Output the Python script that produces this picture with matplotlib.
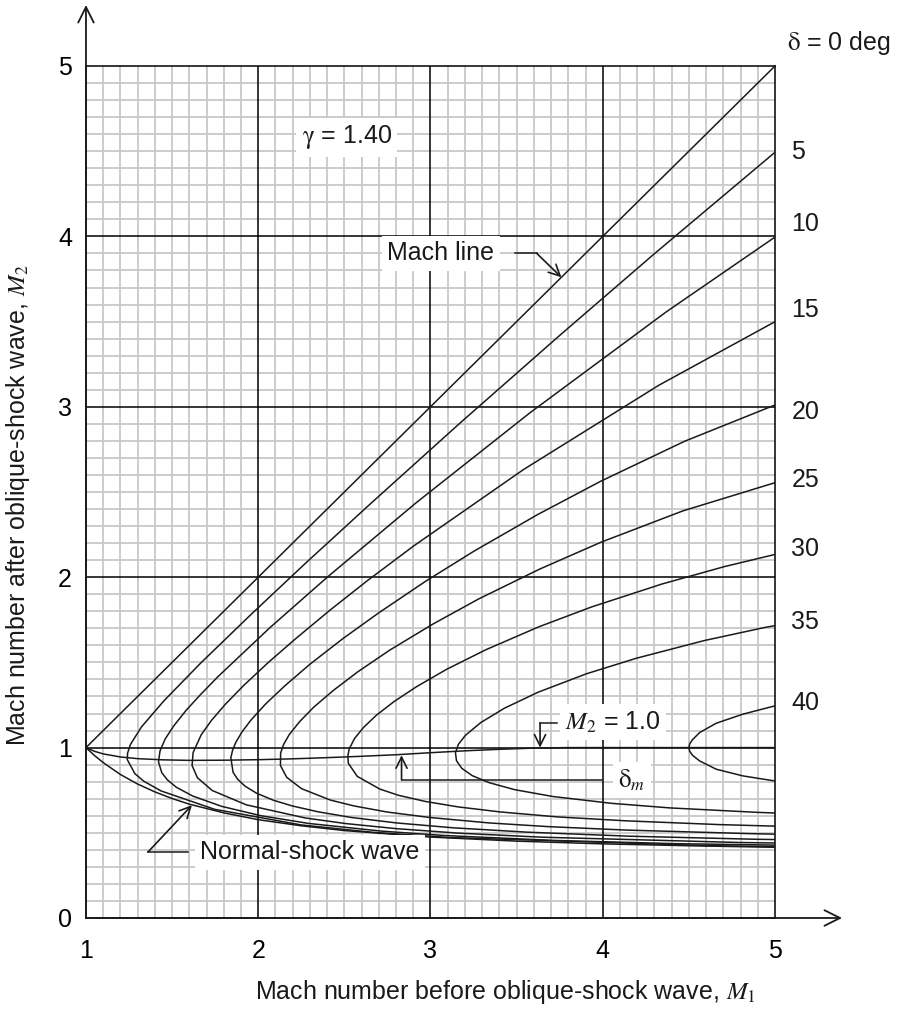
import numpy as np
import matplotlib.pyplot as plt

plt.rcParams['font.family'] = ['Liberation Sans', 'DejaVu Sans']
plt.rcParams['mathtext.fontset'] = 'stix'

# Values (gamma = 1.40)
# delta = 0 : Mach line (weak) and normal shock (strong)
MACH_LINE_M1 = [1.0, 5.0]
MACH_LINE_M2 = [1.0, 5.0]
NORMAL_M1 = [1.0, 1.05, 1.1, 1.2, 1.3, 1.4, 1.5, 1.6, 1.8, 2.0, 2.25, 2.5, 3.0, 3.5, 4.0, 4.5, 5.0]
NORMAL_M2 = [1.0, 0.953, 0.912, 0.842, 0.786, 0.740, 0.701, 0.668, 0.617, 0.577, 0.541, 0.513,
             0.475, 0.451, 0.435, 0.424, 0.415]

# each list runs from the weak branch end, round the nose, to the strong branch end
M1_D5 = [5.031, 4.295, 3.756, 3.172, 2.644, 2.280, 1.962, 1.666, 1.453, 1.322, 1.258, 1.2415, 1.240,
         1.284, 1.335, 1.435, 1.746, 2.250, 2.662, 3.115, 4.631, 5.646]
M2_D5 = [4.520, 3.894, 3.424, 2.905, 2.424, 2.087, 1.785, 1.496, 1.275, 1.121, 1.018, 0.967, 0.929,
         0.847, 0.803, 0.746, 0.638, 0.546, 0.503, 0.472, 0.424, 0.410]

M1_D10 = [5.177, 4.370, 3.579, 2.917, 2.402, 2.068, 1.767, 1.663, 1.581, 1.510, 1.460, 1.430, 1.421,
          1.440, 1.471, 1.525, 1.619, 1.788, 2.017, 2.292, 2.713, 3.081, 3.722, 4.428, 5.903]
M2_D10 = [4.119, 3.558, 2.966, 2.437, 2.001, 1.704, 1.417, 1.309, 1.218, 1.128, 1.051, 0.981, 0.916,
          0.853, 0.812, 0.767, 0.716, 0.655, 0.600, 0.555, 0.510, 0.484, 0.455, 0.436, 0.415]

M1_D15 = [5.162, 4.325, 3.539, 2.902, 2.629, 2.416, 2.216, 2.059, 1.917, 1.809, 1.728, 1.669, 1.622,
          1.616, 1.647, 1.733, 1.931, 2.273, 2.509, 2.804, 3.161, 3.651, 4.795, 5.859]
M2_D15 = [3.589, 3.126, 2.631, 2.183, 1.976, 1.806, 1.638, 1.500, 1.366, 1.254, 1.159, 1.075, 0.971,
          0.895, 0.823, 0.748, 0.664, 0.587, 0.554, 0.524, 0.498, 0.474, 0.443, 0.428]

M1_D20 = [5.457, 4.476, 3.990, 3.623, 3.253, 2.970, 2.700, 2.492, 2.300, 2.155, 2.043, 1.959, 1.907,
          1.870, 1.851, 1.841, 1.854, 1.880, 1.923, 1.989, 2.088, 2.196, 2.348, 2.540, 2.801, 3.135,
          3.555, 4.154, 4.888, 5.607]
M2_D20 = [3.196, 2.798, 2.564, 2.368, 2.153, 1.975, 1.791, 1.640, 1.489, 1.363, 1.256, 1.163, 1.094,
          1.031, 0.984, 0.940, 0.855, 0.815, 0.774, 0.733, 0.691, 0.658, 0.623, 0.590, 0.558, 0.529,
          0.504, 0.480, 0.462, 0.451]

M1_D25 = [5.454, 4.465, 3.989, 3.635, 3.281, 3.016, 2.765, 2.577, 2.433, 2.322, 2.240, 2.180, 2.148,
          2.130, 2.129, 2.165, 2.251, 2.419, 2.554, 2.747, 2.994, 3.339, 3.686, 4.133, 4.853, 5.325]
M2_D25 = [2.695, 2.389, 2.205, 2.048, 1.873, 1.726, 1.573, 1.444, 1.333, 1.237, 1.152, 1.076, 1.020,
          0.968, 0.895, 0.826, 0.759, 0.692, 0.658, 0.622, 0.590, 0.558, 0.536, 0.516, 0.495, 0.485]

M1_D30 = [5.831, 5.179, 4.706, 4.344, 3.934, 3.627, 3.321, 3.093, 2.920, 2.787, 2.686, 2.611, 2.559,
          2.528, 2.520, 2.523, 2.575, 2.705, 2.814, 2.970, 3.160, 3.408, 3.740, 4.139, 4.678, 5.176]
M2_D30 = [2.306, 2.177, 2.062, 1.960, 1.825, 1.708, 1.574, 1.459, 1.358, 1.269, 1.190, 1.118, 1.053,
          0.992, 0.949, 0.908, 0.831, 0.757, 0.720, 0.684, 0.652, 0.622, 0.593, 0.570, 0.548, 0.534]

M1_D35 = [5.406, 4.941, 4.589, 4.194, 3.905, 3.625, 3.429, 3.292, 3.202, 3.162, 3.145, 3.151, 3.182,
          3.243, 3.341, 3.489, 3.710, 4.050, 4.390, 4.896, 5.255]
M2_D35 = [1.789, 1.705, 1.628, 1.524, 1.433, 1.325, 1.231, 1.147, 1.071, 1.019, 0.969, 0.923, 0.878,
          0.835, 0.794, 0.753, 0.713, 0.673, 0.646, 0.620, 0.606]

M1_D40 = [5.0, 4.813, 4.659, 4.562, 4.52, 4.505, 4.50, 4.505, 4.52, 4.562, 4.659, 4.813, 5.0]
M2_D40 = [1.245, 1.196, 1.143, 1.088, 1.045, 1.022, 1.0, 0.978, 0.956, 0.922, 0.873, 0.834, 0.804]

# locus of maximum deflection
DMAX_M1 = [1.0, 1.05, 1.1, 1.2, 1.3, 1.45, 1.6, 1.8, 2.0, 2.2, 2.4, 2.6, 2.8, 3.0, 3.2, 3.4, 3.6, 3.8, 5.0]
DMAX_M2 = [1.0, 0.978, 0.963, 0.945, 0.935, 0.928, 0.925, 0.926, 0.929, 0.934, 0.941, 0.949, 0.958,
           0.970, 0.981, 0.990, 0.997, 1.0, 1.0]

CURVE_LABELS = [r'$\mathrm{\delta}$ = 0 deg', '5', '10', '15', '20', '25', '30', '35', '40']
X_TICKS = [1, 2, 3, 4, 5]
Y_TICKS = [0, 1, 2, 3, 4, 5]

# label heights at the right edge (data units)
LABEL_Y = [5.135, 4.495, 4.073, 3.568, 2.97, 2.57, 2.166, 1.737, 1.262]

####################################################################
FS = 18
fig = plt.figure(figsize=(9.04, 10.09), dpi=100)
ax = fig.add_axes([0.0951, 0.0902, 0.7622, 0.8444])
ax.set_xlim(1, 5)
ax.set_ylim(0, 5)

# graph paper
for v in np.arange(1.1, 5.0, 0.1):
    if abs(v - round(v)) > 1e-6:
        ax.axvline(v, color='#c8c8c8', lw=1.3, zorder=0.5)
for v in np.arange(0.1, 5.0, 0.1):
    if abs(v - round(v)) > 1e-6:
        ax.axhline(v, color='#c8c8c8', lw=1.3, zorder=0.5)
for v in X_TICKS[1:-1]:
    ax.axvline(v, color='black', lw=1.1, zorder=0.6)
for v in Y_TICKS[1:-1]:
    ax.axhline(v, color='black', lw=1.1, zorder=0.6)

for sp in ax.spines.values():
    sp.set_linewidth(1.1)

ax.set_xticks(X_TICKS)
ax.set_yticks(Y_TICKS)
ax.tick_params(length=0, labelsize=FS)
ax.tick_params(axis='x', pad=15)
ax.tick_params(axis='y', pad=10)

curves = [(MACH_LINE_M1, MACH_LINE_M2), (NORMAL_M1, NORMAL_M2),
          (M1_D5, M2_D5), (M1_D10, M2_D10), (M1_D15, M2_D15), (M1_D20, M2_D20),
          (M1_D25, M2_D25), (M1_D30, M2_D30), (M1_D35, M2_D35), (M1_D40, M2_D40),
          (DMAX_M1, DMAX_M2)]
for xs, ys in curves:
    ax.plot(xs, ys, color='#1a1a1a', lw=1.1, zorder=3)

# axis arrows
arrow = dict(arrowstyle='->', lw=1.3, color='#1a1a1a', shrinkA=0, shrinkB=0, mutation_scale=28)
ax.annotate('', xy=(0, 1.0716), xytext=(0, 0), xycoords='axes fraction', arrowprops=arrow)
ax.annotate('', xy=(1.0973, 0), xytext=(0, 0), xycoords='axes fraction', arrowprops=arrow)

# curve labels on the right
for i, (lab, y) in enumerate(zip(CURVE_LABELS, LABEL_Y)):
    ax.text(5.07 if i == 0 else 5.095, y, lab, fontsize=FS, ha='left', va='center',
            color='#1a1a1a', clip_on=False)

box = dict(facecolor='white', edgecolor='none', pad=4)
ax.text(2.515, 4.583, r'$\mathrm{\gamma}$ = 1.40', fontsize=FS, ha='center', va='center',
        bbox=box, zorder=5, color='#1a1a1a')
ax.text(3.06, 3.90, 'Mach line', fontsize=FS, ha='center', va='center', bbox=box, zorder=5,
        color='#1a1a1a')
ax.text(4.06, 1.15, r'$M_2$ = 1.0', fontsize=FS, ha='center', va='center', bbox=box, zorder=5,
        color='#1a1a1a')
ax.text(4.17, 0.81, r'$\mathrm{\delta}_m$', fontsize=FS, ha='center', va='center', bbox=box,
        zorder=5, color='#1a1a1a')
ax.text(2.30, 0.387, 'Normal-shock wave', fontsize=FS, ha='center', va='center', bbox=box,
        zorder=5, color='#1a1a1a')

# pointer lines
small = dict(arrowstyle='->', lw=1.2, color='#1a1a1a', shrinkA=0, shrinkB=0, mutation_scale=20)
ax.plot([3.49, 3.617], [3.90, 3.90], color='#1a1a1a', lw=1.1, zorder=5)
ax.annotate('', xy=(3.76, 3.76), xytext=(3.617, 3.90), arrowprops=small, zorder=5)
ax.plot([3.733, 3.636], [1.144, 1.144], color='#1a1a1a', lw=1.1, zorder=5)
ax.annotate('', xy=(3.636, 1.0), xytext=(3.636, 1.144), arrowprops=small, zorder=5)
ax.plot([3.994, 2.832], [0.81, 0.81], color='#1a1a1a', lw=1.1, zorder=5)
ax.annotate('', xy=(2.832, 0.955), xytext=(2.832, 0.81), arrowprops=small, zorder=5)
ax.plot([1.592, 1.360], [0.387, 0.387], color='#1a1a1a', lw=1.1, zorder=5)
ax.annotate('', xy=(1.615, 0.662), xytext=(1.360, 0.387), arrowprops=small, zorder=5)

fig.text(0.5586, 0.0168, r'Mach number before oblique-shock wave, $M_1$', fontsize=FS,
         ha='center', va='center', color='#1a1a1a')
fig.text(0.0199, 0.4995, r'Mach number after oblique-shock wave, $M_2$', fontsize=FS,
         ha='center', va='center', rotation=90, color='#1a1a1a')

plt.savefig('out.png', dpi=100)
